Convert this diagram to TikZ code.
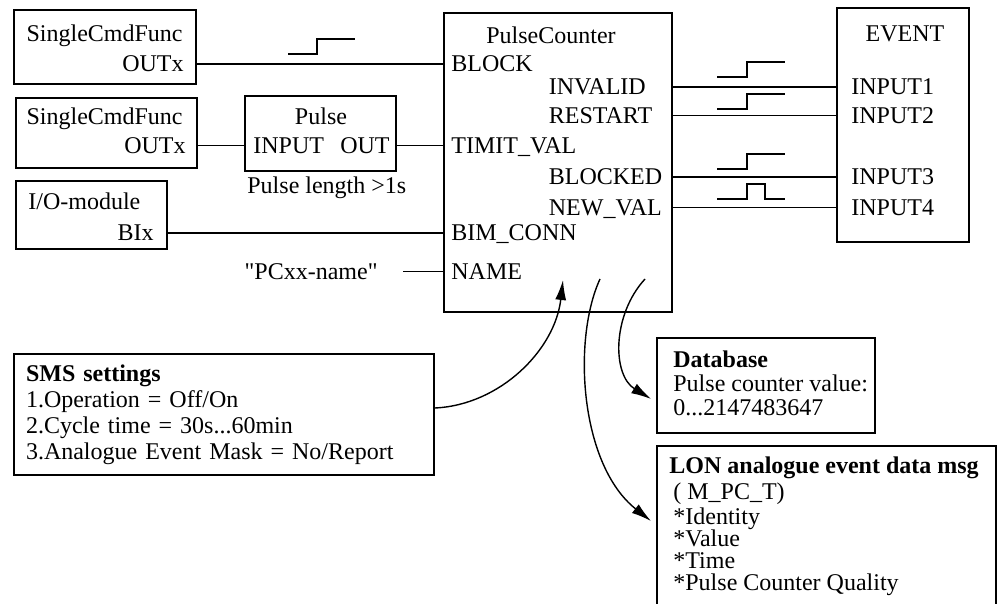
\documentclass[tikz,border=0pt]{standalone}
\usepackage{fontspec}
\setmainfont{Liberation Serif}[Ligatures=TeXOff]
\usetikzlibrary{arrows.meta}

\begin{document}
\begin{tikzpicture}[x=0.5pt, y=-0.5pt,
  font=\fontsize{12}{14}\selectfont,
  box/.style={draw, line width=0.9pt, inner sep=0pt},
  lbl/.style={inner sep=0pt, text height=8pt, text depth=0pt},
  wire/.style={line width=0.7pt},
  flow/.style={-{Latex[length=10pt,width=5.5pt]}, line width=0.7pt}
]
\useasboundingbox (0,0) rectangle (998,604);

% input blocks
\node[box, minimum width=91pt, minimum height=37pt] (cmdA) at (105,47) {};
\node[lbl, anchor=east] (cmdAname) at (183,34) {SingleCmdFunc};
\node[lbl, anchor=east] (outA) at (184,64) {OUTx};
\node[box, minimum width=90.5pt, minimum height=35pt] (cmdB) at (106.5,133) {};
\node[lbl, anchor=east] (cmdBname) at (183,117) {SingleCmdFunc};
\node[lbl, anchor=east] (outB) at (186,145.5) {OUTx};
\node[box, minimum width=75.5pt, minimum height=37.5pt] (pulse) at (320.5,133.5) {};
\node[lbl] (pulsename) at (321,117) {Pulse};
\node[lbl, anchor=west] (pin) at (253,145.5) {INPUT};
\node[lbl, anchor=east] (pout) at (390,145.5) {OUT};
\node[lbl, anchor=west] (plen) at (247,186) {Pulse length >1s};
\node[box, minimum width=75.5pt, minimum height=34pt] (io) at (91.5,215) {};
\node[lbl, anchor=west] (ioname) at (28,202) {I/O-module};
\node[lbl, anchor=east] (bix) at (154,233) {BIx};
\node[lbl, anchor=east] (pcxx) at (378,271.5) {"PCxx-name"};

% pulse counter
\node[box, minimum width=114pt, minimum height=149.5pt] (pc) at (558,162.5) {};
\node[lbl] (pcname) at (551,36) {PulseCounter};
\node[lbl, anchor=west] (block) at (451,64) {BLOCK};
\node[lbl, anchor=west] (timit) at (451,145.5) {TIMIT\_VAL};
\node[lbl, anchor=west] (bimconn) at (451,233) {BIM\_CONN};
\node[lbl, anchor=west] (pname) at (451,271.5) {NAME};
\node[lbl, anchor=west] (invalid) at (548.5,87) {INVALID};
\node[lbl, anchor=west] (restart) at (548.5,115.5) {RESTART};
\node[lbl, anchor=west] (blocked) at (548.5,177) {BLOCKED};
\node[lbl, anchor=west] (newval) at (548.5,207.5) {NEW\_VAL};

% event block
\node[box, minimum width=66pt, minimum height=117pt] (event) at (903,125) {};
\node[lbl] (eventname) at (905,34) {EVENT};
\node[lbl, anchor=west] (in1) at (851,87) {INPUT1};
\node[lbl, anchor=west] (in2) at (851,115.5) {INPUT2};
\node[lbl, anchor=west] (in3) at (851,177) {INPUT3};
\node[lbl, anchor=west] (in4) at (851,207.5) {INPUT4};

% settings and outputs
\node[box, minimum width=210pt, minimum height=60.5pt, inner xsep=6pt, align=left, text width=198pt,
  font=\fontsize{12}{13}\selectfont] (sms) at (224,414.5)
  {\textbf{SMS settings}\\1.Operation = Off/On\\2.Cycle time = 30s...60min\\3.Analogue Event Mask = No/Report};
\node[box, minimum width=109pt, minimum height=47.5pt] (db) at (766,385.5) {};
\node[inner sep=0pt, anchor=north west, align=left, font=\fontsize{12}{12}\selectfont] (dbTxt) at (673,350)
  {\textbf{Database}\\Pulse counter value:\\0...2147483647};
\node[box, minimum width=169.5pt, minimum height=97pt] (lon) at (826.5,543) {};
\node[inner sep=0pt, anchor=north west, align=left, font=\fontsize{12}{11}\selectfont] (lonTxt) at (673,456)
  {\hspace*{-2pt}\textbf{LON analogue event data msg}\\[2pt]( M\_PC\_T)\\[1.5pt]*Identity\\*Value\\*Time\\*Pulse Counter Quality};

% wires
\draw[wire] (outA.east -| cmdA.east) -- (block.west -| pc.west);
\draw[wire] (outB.east -| cmdB.east) -- (pin.west -| pulse.west);
\draw[wire] (pout.east -| pulse.east) -- (timit.west -| pc.west);
\draw[wire] (bix.east -| io.east) -- (bimconn.west -| pc.west);
\draw[wire] ([xshift=12.5pt]pcxx.east) -- (pname.west -| pc.west);
\draw[wire] (invalid.west -| pc.east) -- (in1.west -| event.west);
\draw[wire] (restart.west -| pc.east) -- (in2.west -| event.west);
\draw[wire] (blocked.west -| pc.east) -- (in3.west -| event.west);
\draw[wire] (newval.west -| pc.east) -- (in4.west -| event.west);

% signal shapes
\draw[wire] (288,54) -- (317,54) -- (317,39) -- (355,39);
\foreach \y in {77,109,169}
  \draw[wire] (717,\y) -- (747,\y) -- (747,\y-15) -- (785,\y-15);
\draw[wire] (717,199) -- (747,199) -- (747,184) -- (765,184) -- (765,199) -- (785,199);

% data flow
\coordinate (setIn) at (563,280);
\coordinate (valOut) at (600,279);
\coordinate (dbOut) at (645,279);
\draw[flow] ([yshift=3.25pt]sms.east) .. controls (500,405) and (555,350) .. (setIn);
\draw[flow] (dbOut) .. controls (612,315) and (612,375) .. ([xshift=-2.5pt,yshift=-6.75pt]db.west);
\draw[flow] (valOut) .. controls (572,340) and (580,465) .. ([xshift=-2.5pt,yshift=-38pt]lon.north west);
\end{tikzpicture}
\end{document}
